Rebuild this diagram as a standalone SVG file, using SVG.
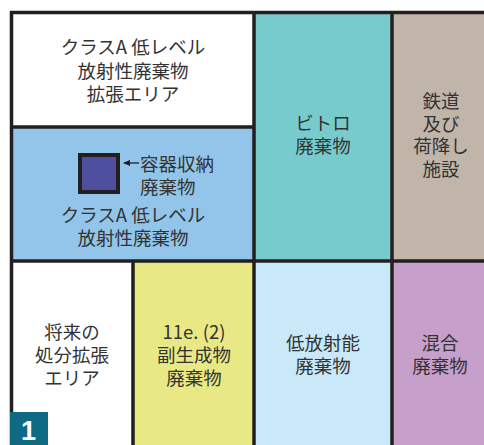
<svg xmlns="http://www.w3.org/2000/svg" width="484" height="445" viewBox="0 0 484 445">
<style>
.t{font-family:"Noto Sans CJK JP","Noto Sans",sans-serif;font-size:18.5px;fill:#333;text-anchor:middle}
.s{text-anchor:start}
.ln{stroke:#231f20;stroke-width:3.5;fill:none}
</style>
<defs>
<marker id="ah" markerWidth="8" markerHeight="8" refX="6" refY="4" orient="auto" markerUnits="userSpaceOnUse">
<path d="M0,1 L7,4 L0,7 Z" fill="#231f20"/>
</marker>
</defs>
<rect width="484" height="445" fill="#fff"/>
<g id="expansion-area">
<rect x="11.5" y="12.5" width="242.5" height="114.5" fill="#fff"/>
<text class="t"><tspan x="133" y="54">クラスA 低レベル</tspan><tspan x="133" y="78">放射性廃棄物</tspan><tspan x="133" y="101">拡張エリア</tspan></text>
</g>
<g id="class-a">
<rect x="11.5" y="127" width="242.5" height="134" fill="#92c5e9"/>
<rect x="80" y="155" width="38" height="37" fill="#4f4f9f" stroke="#231f20" stroke-width="4"/>
<text class="t s"><tspan x="140" y="171">容器収納</tspan><tspan x="140" y="194">廃棄物</tspan></text>
<text class="t"><tspan x="133" y="222">クラスA 低レベル</tspan><tspan x="133" y="245">放射性廃棄物</tspan></text>
</g>
<g id="vitro">
<rect x="254" y="12.5" width="138" height="248.5" fill="#77cbcd"/>
<text class="t"><tspan x="323" y="130">ビトロ</tspan><tspan x="323" y="153">廃棄物</tspan></text>
</g>
<g id="rail">
<rect x="392" y="12.5" width="92" height="248.5" fill="#c1b5aa"/>
<text class="t"><tspan x="441" y="108">鉄道</tspan><tspan x="441" y="131">及び</tspan><tspan x="441" y="153">荷降し</tspan><tspan x="441" y="176">施設</tspan></text>
</g>
<g id="future">
<rect x="11.5" y="261" width="121.5" height="184" fill="#fff"/>
<text class="t"><tspan x="72" y="339">将来の</tspan><tspan x="72" y="362">処分拡張</tspan><tspan x="72" y="385">エリア</tspan></text>
</g>
<g id="byproduct">
<rect x="133" y="261" width="121" height="184" fill="#e8e985"/>
<text class="t"><tspan x="194" y="339">11e. (2)</tspan><tspan x="194" y="362">副生成物</tspan><tspan x="194" y="385">廃棄物</tspan></text>
</g>
<g id="low-level">
<rect x="254" y="261" width="138" height="184" fill="#c9e9f8"/>
<text class="t"><tspan x="323" y="350">低放射能</tspan><tspan x="323" y="373">廃棄物</tspan></text>
</g>
<g id="mixed">
<rect x="392" y="261" width="92" height="184" fill="#c69fca"/>
<text class="t"><tspan x="440" y="350">混合</tspan><tspan x="440" y="373">廃棄物</tspan></text>
</g>
<g id="connectors">
<path class="ln" d="M11.5,445 V12.5 H484"/>
<path class="ln" d="M254,12.5 V445 M392,12.5 V445 M11.5,127 H254 M11.5,261 H484 M133,261 V445"/>
<line x1="139" y1="163" x2="124" y2="163" stroke="#231f20" stroke-width="1.3" marker-end="url(#ah)"/>
</g>
<g id="label-1">
<rect x="10" y="412" width="38" height="33" fill="#0f6b84"/>
<text x="28.5" y="440" font-family="'Liberation Sans',sans-serif" font-weight="bold" font-size="27" fill="#fff" text-anchor="middle">1</text>
</g>
</svg>
